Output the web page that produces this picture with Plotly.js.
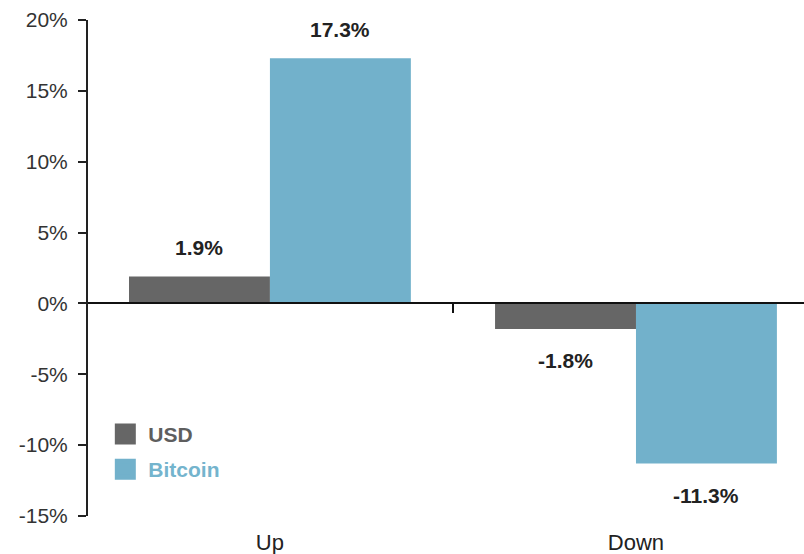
<!DOCTYPE html>
<html>
<head>
<meta charset="utf-8">
<script src="https://cdn.plot.ly/plotly-3.0.1.min.js"></script>
<style>html,body{margin:0;padding:0;background:#fff}#chart{width:804px;height:554px}</style>
</head>
<body>
<div id="chart"></div>
<script>
var categories = ['Up', 'Down'];
var usdValues = [1.9, -1.8];
var bitcoinValues = [17.3, -11.3];
var seriesNames = ['USD', 'Bitcoin'];
var yTickValues = [-15, -10, -5, 0, 5, 10, 15, 20];
var yTickLabels = yTickValues.map(function (v) { return v + '%'; });

var colUSD = '#666666';
var colBTC = '#72b1cb';
var FONT = 'Liberation Sans, Arial, sans-serif';

var traces = [
  {type: 'bar', x: categories, y: usdValues, name: seriesNames[0], marker: {color: colUSD}, showlegend: false, hoverinfo: 'none'},
  {type: 'bar', x: categories, y: bitcoinValues, name: seriesNames[1], marker: {color: colBTC}, showlegend: false, hoverinfo: 'none'},
  {type: 'scatter', mode: 'markers', x: categories, y: [null, null], xaxis: 'x2', yaxis: 'y', legendgroup: 'a',
   name: '<b><span style="color:#5e5e5e">' + seriesNames[0] + '</span></b>',
   marker: {symbol: 'square', size: 16, color: colUSD, line: {color: colUSD, width: 5}}, hoverinfo: 'none'},
  {type: 'scatter', mode: 'markers', x: categories, y: [null, null], xaxis: 'x2', yaxis: 'y', legendgroup: 'b',
   name: '<b><span style="color:#74b4cd">' + seriesNames[1] + '</span></b>',
   marker: {symbol: 'square', size: 16, color: colBTC, line: {color: colBTC, width: 5}}, hoverinfo: 'none'}
];

var annotations = [];
var groupOffset = 70.5;
[usdValues, bitcoinValues].forEach(function (vals, si) {
  vals.forEach(function (v, i) {
    annotations.push({
      x: categories[i], y: v, xref: 'x', yref: 'y',
      text: '<b>' + v.toFixed(1) + '%</b>', showarrow: false,
      xshift: (si === 0 ? -groupOffset : groupOffset),
      yshift: v >= 0 ? 29 : -32,
      xanchor: 'center', yanchor: 'middle',
      font: {family: FONT, size: 21, color: '#222222'}
    });
  });
});

var xr = [-0.497, 1.459];
var layout = {
  width: 804, height: 554,
  margin: {l: 88, r: 0, t: 20, b: 38, pad: 0},
  paper_bgcolor: '#ffffff', plot_bgcolor: '#ffffff',
  barmode: 'group', bargap: 0.23, bargroupgap: 0,
  font: {family: FONT, size: 21, color: '#333333'},
  xaxis: {
    type: 'category', range: xr, showline: false, ticks: '', showgrid: false, zeroline: false,
    tickfont: {family: FONT, size: 22, color: '#222222'}, ticklabelstandoff: 11
  },
  xaxis2: {
    type: 'category', overlaying: 'x', anchor: 'free', position: 15 / 35, range: xr,
    showline: true, linecolor: '#111111', linewidth: 2, ticks: 'outside', tickson: 'boundaries',
    ticklen: 9, tickwidth: 2, tickcolor: '#111111', showticklabels: false, showgrid: false, zeroline: false
  },
  yaxis: {
    range: [-15, 20], tickmode: 'array', tickvals: yTickValues, ticktext: yTickLabels, showgrid: false, zeroline: false,
    showline: true, linecolor: '#222222', linewidth: 2, ticks: 'outside', ticklen: 8, tickwidth: 2,
    tickcolor: '#222222', tickfont: {family: FONT, size: 21, color: '#333333'}, ticklabelstandoff: 6
  },
  showlegend: true,
  legend: {x: 0.02, y: 0.206, xanchor: 'left', yanchor: 'top', bgcolor: 'rgba(0,0,0,0)',
    font: {family: FONT, size: 21}, itemsizing: 'trace', itemwidth: 36, tracegroupgap: 5},
  annotations: annotations
};

Plotly.newPlot('chart', traces, layout, {displayModeBar: false, staticPlot: true});
</script>
</body>
</html>
